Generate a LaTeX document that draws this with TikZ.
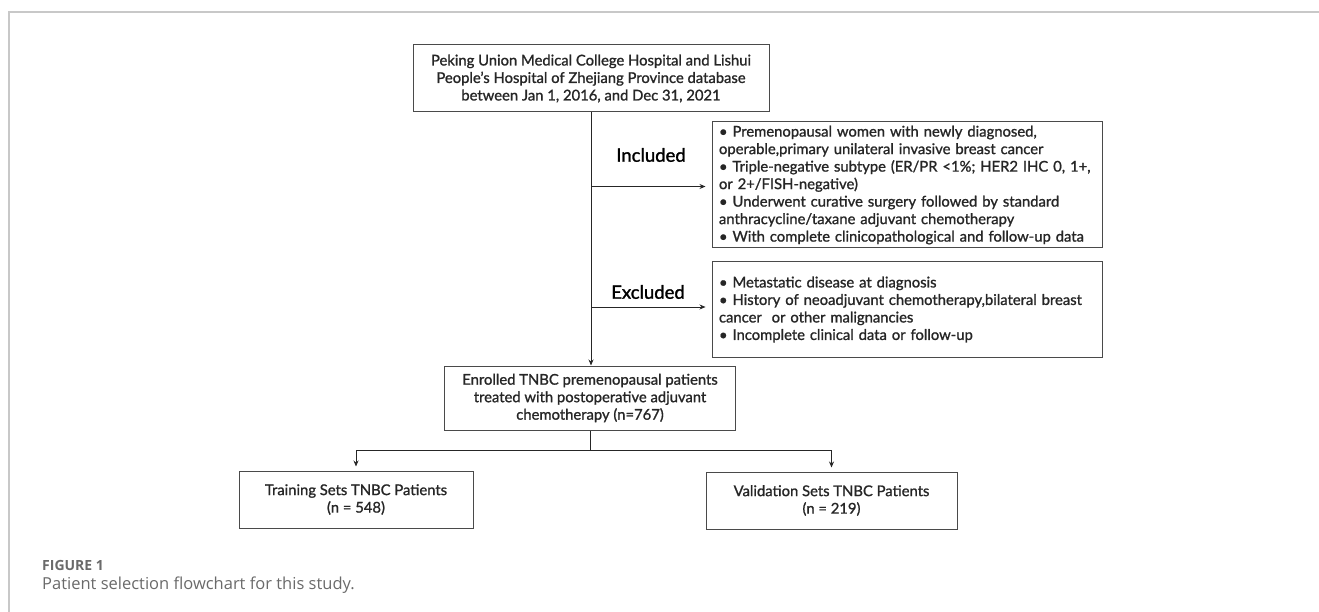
\documentclass[tikz,border=0pt]{standalone}
\usepackage{fontspec}
\setmainfont{Lato}[FakeBold=1.2]
\newfontfamily\lblfont{Lato}[FakeBold=1.5]
\newfontfamily\capfont{Open Sans}
\usetikzlibrary{arrows.meta,calc}
\definecolor{txt}{HTML}{262626}
\definecolor{framec}{HTML}{C8C8C8}
\definecolor{boxline}{HTML}{4A4A4A}
\definecolor{capgray}{HTML}{6A6A6A}
\begin{document}
\begin{tikzpicture}[x=1pt,y=-1pt,
  box/.style={draw=boxline, line width=1pt, text=txt, inner sep=0pt,
    font=\fontsize{14.8}{17.5}\selectfont, align=center},
  lbox/.style={box, align=left, inner xsep=7pt},
  lbl/.style={text=black, font=\lblfont\fontsize{18.5}{22}\selectfont},
  conn/.style={draw=black!85, line width=0.8pt},
  arr/.style={conn, -{Stealth[length=6pt,width=5pt]}}]
\useasboundingbox (0,0) rectangle (1319,612);
\draw[framec, line width=1.2pt] (9,612) -- (9,12) -- (1319,12);

\node[box, minimum width=356pt, minimum height=67pt] (src) at (591,78.5)
  {Peking Union Medical College Hospital and Lishui\\
   People's Hospital of Zhejiang Province database\\
   between Jan 1, 2016, and Dec 31, 2021};

\node[lbox, text width=376pt, minimum height=126pt] (inc) at (907,185)
  {• Premenopausal women with newly diagnosed,\\
   operable,primary unilateral invasive breast cancer\\
   • Triple-negative subtype (ER/PR <1\%; HER2 IHC 0, 1+,\\
   or 2+/FISH-negative)\\
   • Underwent curative surgery followed by standard\\
   anthracycline/taxane adjuvant chemotherapy\\
   • With complete clinicopathological and follow-up data};

\node[lbox, text width=376pt, minimum height=95pt] (exc) at (907,309.5)
  {• Metastatic disease at diagnosis\\
   • History of neoadjuvant chemotherapy,bilateral breast\\
   cancer\ \ or other malignancies\\
   • Incomplete clinical data or follow-up};

\node[box, minimum width=291pt, minimum height=64pt] (enr) at (590,398)
  {Enrolled TNBC premenopausal patients\\
   treated with postoperative adjuvant\\
   chemotherapy (n=767)};

\node[box, minimum width=234pt, minimum height=57pt] (trn) at (356,499.5)
  {Training Sets TNBC Patients\\(n = 548)};

\node[box, minimum width=251pt, minimum height=57pt] (val) at (831.5,500.5)
  {Validation Sets TNBC Patients\\(n = 219)};

\node[lbl] (linc) at (651,155) {Included};
\node[lbl] (lexc) at (648,292) {Excluded};

\coordinate (ji) at (591,186.5);
\coordinate (je) at (591,307);
\draw[arr] (src.south) -- (src.south |- enr.north);
\draw[arr, shorten >=6pt] (ji) -- (ji -| inc.west);
\draw[arr, shorten >=6pt] (je) -- (je -| exc.west);
\draw[conn] (enr.south) -- ++(0,20) coordinate (br);
\draw[arr, shorten >=4pt] (br) -| (trn.north);
\draw[arr, shorten >=4pt] (br) -| (val.north);

\node[anchor=west, text=capgray, inner sep=0pt,
  font=\capfont\bfseries\fontsize{14}{16}\selectfont] (fig) at (42,565) {FIGURE 1};
\node[anchor=west, text=capgray, inner sep=0pt,
  font=\capfont\fontsize{16.5}{20}\selectfont] (cap) at (42,585)
  {Patient selection flowchart for this study.};
\end{tikzpicture}
\end{document}
